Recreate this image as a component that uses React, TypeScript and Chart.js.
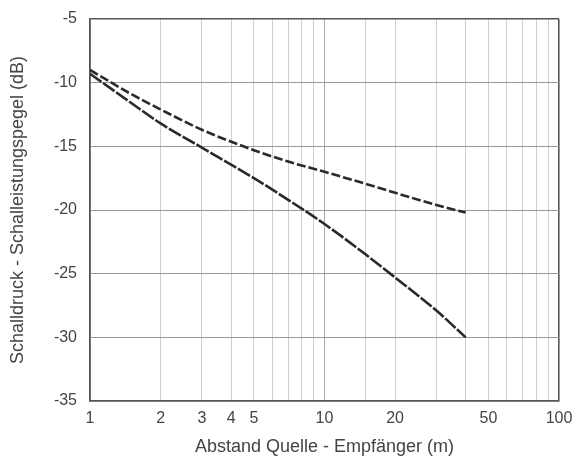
import React, { useEffect, useRef } from "react";
import { Chart, registerables } from "chart.js";

Chart.register(...registerables);

const distances = [1, 1.5, 2, 3, 5, 7, 10, 15, 20, 30, 40];
const upperSeries = [-9.0, -10.9, -12.1, -13.7, -15.3, -16.2, -17.0, -17.95, -18.65, -19.6, -20.2];
const lowerSeries = [-9.3, -11.6, -13.2, -15.1, -17.5, -19.2, -21.1, -23.5, -25.3, -27.9, -30.0];
const xTickLabels = [1, 2, 3, 4, 5, 10, 20, 50, 100];
const xTitle = "Abstand Quelle - Empfänger (m)";
const yTitle = "Schalldruck - Schalleistungspegel (dB)";

export default function App() {
  const ref = useRef<HTMLCanvasElement | null>(null);
  useEffect(() => {
    if (!ref.current) return;
    const font = "'Liberation Sans', Arial, sans-serif";
    const zeroPad = (s: any) => {
      s.paddingLeft = 0;
      s.paddingRight = 0;
      s.paddingTop = 0;
      s.paddingBottom = 0;
    };
    const chart = new Chart(ref.current, {
      type: "line",
      data: {
        datasets: [
          {
            label: "upper",
            data: distances.map((d, i) => ({ x: d, y: upperSeries[i] })),
            borderColor: "#2a2a2a",
            borderWidth: 2.6,
            borderDash: [9, 3],
            pointRadius: 0,
            cubicInterpolationMode: "monotone",
          },
          {
            label: "lower",
            data: distances.map((d, i) => ({ x: d, y: lowerSeries[i] })),
            borderColor: "#2a2a2a",
            borderWidth: 2.6,
            borderDash: [14, 2],
            pointRadius: 0,
            cubicInterpolationMode: "monotone",
          },
        ],
      },
      options: {
        animation: false,
        responsive: true,
        maintainAspectRatio: false,
        layout: { padding: { top: 19, right: 15, left: 0, bottom: 1 } },
        plugins: { legend: { display: false }, tooltip: { enabled: false } },
        scales: {
          x: {
            type: "logarithmic",
            min: 1,
            max: 100,
            afterFit: (s: any) => {
              s.height = 57;
              zeroPad(s);
            },
            grid: {
              drawTicks: false,
              lineWidth: (c: any) => {
                const v = c.tick && c.tick.value;
                return v === 1 || v === 100 ? 1.6 : 1;
              },
              color: (c: any) => {
                const v = c.tick && c.tick.value;
                if (v === 1 || v === 100) return "#555555";
                if (v === 10) return "#a8a8a8";
                return "#cfcfcf";
              },
            },
            border: { color: "#555555", width: 1.6 },
            ticks: {
              autoSkip: false,
              maxRotation: 0,
              padding: 8,
              color: "#444444",
              font: { family: font, size: 16 },
              callback: (v: any) => (xTickLabels.includes(Number(v)) ? String(v) : ""),
            },
            title: {
              display: true,
              text: xTitle,
              color: "#444444",
              font: { family: font, size: 18 },
              padding: { top: 0, bottom: 0 },
            },
          },
          y: {
            type: "linear",
            min: -35,
            max: -5,
            afterFit: (s: any) => {
              s.width = 90;
              zeroPad(s);
            },
            grid: {
              drawTicks: false,
              lineWidth: (c: any) => {
                const v = c.tick && c.tick.value;
                return v === -5 || v === -35 ? 1.6 : 1;
              },
              color: (c: any) => {
                const v = c.tick && c.tick.value;
                if (v === -5 || v === -35) return "#555555";
                return "#9a9a9a";
              },
            },
            border: { color: "#555555", width: 1.6 },
            ticks: {
              stepSize: 5,
              padding: 13,
              color: "#444444",
              font: { family: font, size: 16 },
            },
            title: {
              display: true,
              text: yTitle,
              color: "#444444",
              font: { family: font, size: 18 },
              padding: { top: 7, bottom: 0 },
            },
          },
        },
      },
    });
    return () => chart.destroy();
  }, []);
  return (
    <div style={{ position: "fixed", left: 0, top: 0, width: 574, height: 459, background: "#ffffff" }}>
      <canvas ref={ref} />
    </div>
  );
}
